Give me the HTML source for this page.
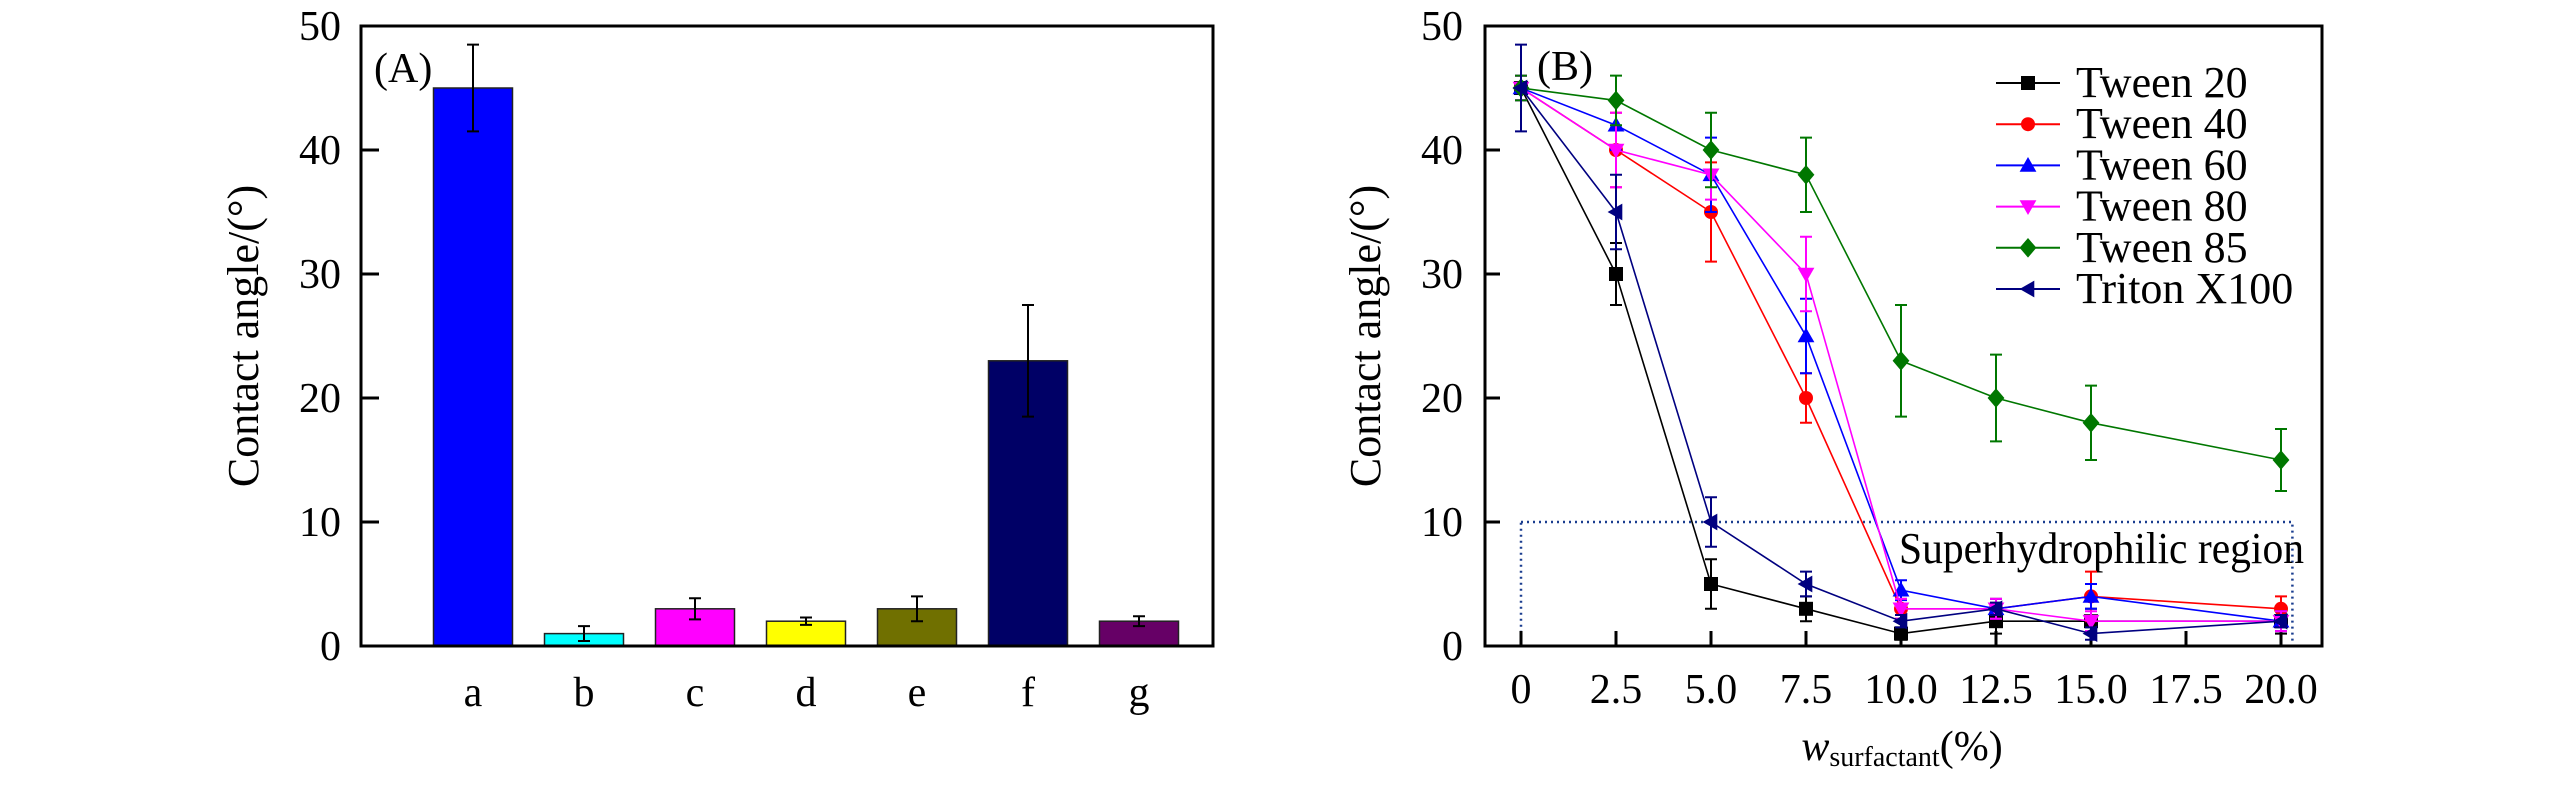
<!DOCTYPE html>
<html><head><meta charset="utf-8"><style>
html,body{margin:0;padding:0;background:#fff;}
svg{display:block;font-family:"Liberation Serif","Times New Roman",serif;}
svg text{font-family:"Liberation Serif","Times New Roman",serif;}
</style></head><body>
<svg id="s" width="2567" height="787" viewBox="0 0 2567 787" xmlns="http://www.w3.org/2000/svg" font-family="Liberation Serif, serif">
<g id="A"></g>
<g id="B"></g>
</svg>
<script>
// Panel A data
const catsA = ['a','b','c','d','e','f','g'];
const valsA = [45, 1, 3, 2, 3, 23, 2];
const errsA = [3.5, 0.6, 0.85, 0.3, 1.0, 4.5, 0.4];
const colorsA = ['#0000ff','#00ffff','#ff00ff','#ffff00','#707000','#000066','#660066'];
const yTicksA = [0,10,20,30,40,50];
// Panel B data
const xB = [0, 2.5, 5, 7.5, 10, 12.5, 15, 20];
const xTicksB = [0, 2.5, 5, 7.5, 10, 12.5, 15, 17.5, 20];
const xTickLabelsB = ['0','2.5','5.0','7.5','10.0','12.5','15.0','17.5','20.0'];
const yTicksB = [0,10,20,30,40,50];
const seriesNames = ['Tween 20','Tween 40','Tween 60','Tween 80','Tween 85','Triton X100'];
const t20 = [45, 30, 5, 3, 1, 2, 2, 2];
const t20e = [1, 2.5, 2, 1, 0.5, 1, 1, 1];
const t40 = [45, 40, 35, 20, 3, 3, 4, 3];
const t40e = [1, 3, 4, 2, 0.8, 0.8, 2, 1];
const t60 = [45, 42, 38, 25, 4.5, 3, 4, 2];
const t60e = [1, 2, 3, 3, 0.8, 0.8, 1, 0.8];
const t80 = [45, 40, 38, 30, 3, 3, 2, 2];
const t80e = [1, 3, 2, 3, 0.8, 0.8, 0.8, 0.8];
const t85 = [45, 44, 40, 38, 23, 20, 18, 15];
const t85e = [1, 2, 3, 3, 4.5, 3.5, 3, 2.5];
const tx = [45, 35, 10, 5, 2, 3, 1, 2];
const txe = [3.5, 3, 2, 1, 0.5, 0.5, 0.5, 0.5];
const seriesColors = ['#000000','#ff0000','#0000ff','#ff00ff','#007700','#000080'];
const seriesMarkers = ['square','circle','up','down','diamond','left'];
const regionMax = 10;
const regionXMax = 20.3;

const NS='http://www.w3.org/2000/svg';
const FF='Liberation Serif, Times New Roman, serif';
function el(parent, tag, attrs, text){const e=document.createElementNS(NS,tag);for(const k in attrs)e.setAttribute(k,attrs[k]);if(tag==='text')e.setAttribute('font-family',FF);if(text!==undefined)e.textContent=text;parent.appendChild(e);return e;}

// ---------- Panel A ----------
const A=document.getElementById('A');
const aL=361,aR=1213,aT=26,aB=646;
const yA=v=>aB-(v/50)*(aB-aT);
const xA=i=>473+i*111;
yTicksA.forEach(t=>{
  const tk=el(A,'line',{x1:aL,x2:aL+18,y1:yA(t),y2:yA(t),stroke:'#000','stroke-width':3});
  
  
  const lb=el(A,'text',{x:aL-20,y:yA(t)+14,'font-size':42,'text-anchor':'end'},String(t));
  
  
});
catsA.forEach((c,i)=>{
  const x=xA(i),w=79;
  const b=el(A,'rect',{x:x-w/2,y:yA(valsA[i]),width:w,height:yA(0)-yA(valsA[i]),fill:colorsA[i],stroke:'#222','stroke-width':1.5});
  
  
  const hi=yA(valsA[i]+errsA[i]),lo=yA(valsA[i]-errsA[i]);
  const eg=el(A,'path',{d:`M${x},${hi}V${lo}M${x-6},${hi}H${x+6}M${x-6},${lo}H${x+6}`,stroke:'#000','stroke-width':2,fill:'none'});
  
  
  const lb=el(A,'text',{x:x,y:706,'font-size':42,'text-anchor':'middle'},c);
  
  
});
{
 const f=el(A,'rect',{x:aL,y:aT,width:aR-aL,height:aB-aT,fill:'none',stroke:'#000','stroke-width':3});
 
 const p=el(A,'text',{x:374,y:82,'font-size':42},'(A)');
 
 const yl=el(A,'text',{x:0,y:0,'font-size':44,'text-anchor':'middle',transform:`translate(258,${(aT+aB)/2}) rotate(-90)`},'Contact angle/(°)');
 
}

// ---------- Panel B ----------
const B=document.getElementById('B');
const bL=1485,bR=2322,bT=26,bB=646;
const xBf=v=>1521+v*38;
const yB=v=>bB-(v/50)*(bB-bT);
{
 const r=el(B,'rect',{x:xBf(0),y:yB(regionMax),width:xBf(regionXMax)-xBf(0),height:yB(0)-yB(regionMax),fill:'none',stroke:'#1a3d8f','stroke-width':2.5,'stroke-dasharray':'2 4'});
 
 const t=el(B,'text',{x:1899,y:563,'font-size':44,textLength:405,lengthAdjust:'spacingAndGlyphs'},'Superhydrophilic region');
 
}
yTicksB.forEach(t=>{
  const tk=el(B,'line',{x1:bL,x2:bL+15,y1:yB(t),y2:yB(t),stroke:'#000','stroke-width':3});
  
  const lb=el(B,'text',{x:bL-22,y:yB(t)+14,'font-size':42,'text-anchor':'end'},String(t));
  
});
xTicksB.forEach((t,i)=>{
  const tk=el(B,'line',{x1:xBf(t),x2:xBf(t),y1:bB,y2:bB-15,stroke:'#000','stroke-width':3});
  
  const lb=el(B,'text',{x:xBf(t),y:703,'font-size':42,'text-anchor':'middle'},xTickLabelsB[i]);
  
});
function marker(g,type,x,y,c,s){
  let e;
  if(type==='square')e=el(g,'rect',{x:x-s/2,y:y-s/2,width:s,height:s,fill:c});
  else if(type==='circle')e=el(g,'circle',{cx:x,cy:y,r:s/2,fill:c});
  else if(type==='up')e=el(g,'polygon',{points:`${x},${y-s*0.6} ${x+s*0.6},${y+s*0.45} ${x-s*0.6},${y+s*0.45}`,fill:c});
  else if(type==='down')e=el(g,'polygon',{points:`${x},${y+s*0.6} ${x+s*0.6},${y-s*0.45} ${x-s*0.6},${y-s*0.45}`,fill:c});
  else if(type==='diamond')e=el(g,'polygon',{points:`${x},${y-s*0.7} ${x+s*0.6},${y} ${x},${y+s*0.7} ${x-s*0.6},${y}`,fill:c});
  else e=el(g,'polygon',{points:`${x-s*0.6},${y} ${x+s*0.45},${y-s*0.6} ${x+s*0.45},${y+s*0.6}`,fill:c});
  return e;
}
const allVals=[t20,t40,t60,t80,t85,tx];
const allErrs=[t20e,t40e,t60e,t80e,t85e,txe];
allVals.forEach((vals,si)=>{
  const g=el(B,'g',{});
  
  
  const c=seriesColors[si];
  const d=vals.map((v,i)=>(i?'L':'M')+xBf(xB[i])+','+yB(v)).join('');
  const ln=el(g,'path',{d:d,fill:'none',stroke:c,'stroke-width':1.6});
  
  vals.forEach((v,i)=>{
    const x=xBf(xB[i]),hi=yB(v+allErrs[si][i]),lo=yB(v-allErrs[si][i]);
    const eb=el(g,'path',{d:`M${x},${hi}V${lo}M${x-6},${hi}H${x+6}M${x-6},${lo}H${x+6}`,stroke:c,'stroke-width':2,fill:'none'});
    
    const m=marker(g,seriesMarkers[si],x,yB(v),c,14);
    
  });
  const ly=83+si*41.2;
  const lg=el(B,'g',{});
  
  el(lg,'line',{x1:1996,x2:2060,y1:ly,y2:ly,stroke:c,'stroke-width':2});
  marker(lg,seriesMarkers[si],2028,ly,c,14);
  el(lg,'text',{x:2076,y:ly+14,'font-size':44},seriesNames[si]);
});
{
 const f=el(B,'rect',{x:bL,y:bT,width:bR-bL,height:bB-bT,fill:'none',stroke:'#000','stroke-width':3});
 
 const p=el(B,'text',{x:1537,y:80,'font-size':42},'(B)');
 
 const yl=el(B,'text',{x:0,y:0,'font-size':44,'text-anchor':'middle',transform:`translate(1380,${(bT+bB)/2}) rotate(-90)`},'Contact angle/(°)');
 
 const xt=el(B,'text',{x:1902,y:760,'font-size':42,'text-anchor':'middle'});
 
 el(xt,'tspan',{'font-style':'italic'},'w');
 el(xt,'tspan',{'font-size':28,dy:6},'surfactant');
 el(xt,'tspan',{dy:-6},'(%)');
}
</script>
</body></html>
